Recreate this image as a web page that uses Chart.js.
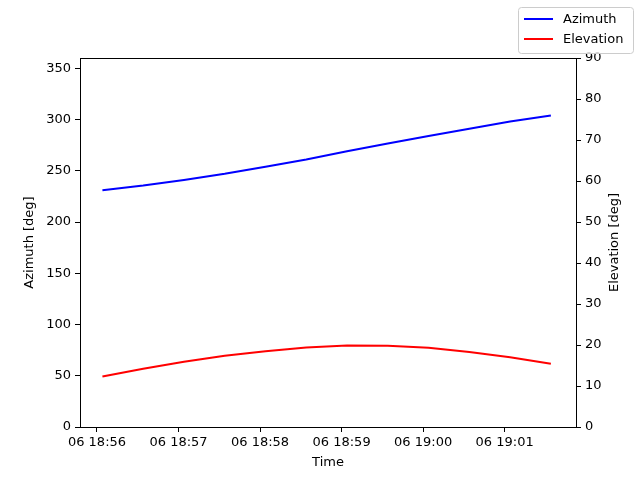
<!DOCTYPE html>
<html>
<head>
<meta charset="utf-8">
<script src="https://cdn.jsdelivr.net/npm/chart.js@4"></script>
<style>
  html, body { margin: 0; padding: 0; background: #fff; }
  #wrap { width: 640px; height: 480px; }
</style>
</head>
<body>
<div id="wrap"><canvas id="c" width="640" height="480"></canvas></div>
<script>
// --- Data (seconds after 18:56:00, 30 s steps) ---
const timeSec = [4, 34, 64, 94, 124, 154, 184, 214, 244, 274, 304, 334];
const azimuth = [231, 235.5, 241, 247, 254, 261, 269, 276.5, 284, 291, 298, 304];
const elevation = [12.3, 14.2, 15.9, 17.4, 18.5, 19.4, 19.9, 19.8, 19.3, 18.3, 17.0, 15.4];
const xTickLabels = ['06 18:56', '06 18:57', '06 18:58', '06 18:59', '06 19:00', '06 19:01'];
const azTicks = [0, 50, 100, 150, 200, 250, 300, 350];
const elTicks = [0, 10, 20, 30, 40, 50, 60, 70, 80, 90];
const seriesNames = ['Azimuth', 'Elevation'];
const axisTitles = ['Azimuth [deg]', 'Elevation [deg]', 'Time'];

const FONT = 'DejaVu Sans, sans-serif';
const toPts = (ys) => ys.map((y, i) => ({x: timeSec[i], y}));

// frame, y titles (both read bottom-up) and boxed legend, drawn like matplotlib
const frameLegend = {
  id: 'frameLegend',
  afterDraw(chart) {
    const {ctx, chartArea: a} = chart;
    ctx.save();
    ctx.strokeStyle = '#000';
    ctx.lineWidth = 1;
    ctx.strokeRect(Math.round(a.left) + 0.5, Math.round(a.top) + 0.5,
      Math.round(a.right - a.left), Math.round(a.bottom - a.top));

    ctx.fillStyle = '#000';
    ctx.font = `13px ${FONT}`;
    ctx.textAlign = 'center';
    ctx.textBaseline = 'middle';
    const midY = (a.top + a.bottom) / 2;
    [[30, axisTitles[0]], [615, axisTitles[1]]].forEach(([x, t]) => {
      ctx.save();
      ctx.translate(x, midY);
      ctx.rotate(-Math.PI / 2);
      ctx.fillText(t, 0, 0);
      ctx.restore();
    });

    // legend box
    const bx = 518.5, by = 7.5, bw = 115, bh = 46;
    ctx.fillStyle = 'rgba(255,255,255,0.8)';
    ctx.strokeStyle = '#cccccc';
    ctx.beginPath();
    ctx.roundRect(bx, by, bw, bh, 3);
    ctx.fill();
    ctx.stroke();
    ctx.textAlign = 'left';
    chart.data.datasets.forEach((ds, i) => {
      const y = 19 + i * 20;
      ctx.strokeStyle = ds.borderColor;
      ctx.lineWidth = 2;
      ctx.beginPath();
      ctx.moveTo(524, y);
      ctx.lineTo(553, y);
      ctx.stroke();
      ctx.fillStyle = '#000';
      ctx.fillText(ds.label, 563, y + 1);
    });
    ctx.restore();
  }
};

const tickStyle = {color: '#000', font: {family: FONT, size: 13}};
const gridStyle = {display: true, drawOnChartArea: false, drawTicks: true, tickLength: 5, color: '#000', tickColor: '#000'};

new Chart(document.getElementById('c'), {
  type: 'line',
  data: {
    datasets: [
      {label: seriesNames[0], data: toPts(azimuth), yAxisID: 'yAz', borderColor: '#0000ff',
       borderWidth: 2, pointRadius: 0, tension: 0, fill: false},
      {label: seriesNames[1], data: toPts(elevation), yAxisID: 'yEl', borderColor: '#ff0000',
       borderWidth: 2, pointRadius: 0, tension: 0, fill: false}
    ]
  },
  options: {
    responsive: false,
    animation: false,
    layout: {padding: {top: 58, left: 0, right: 0, bottom: 0}},
    plugins: {legend: {display: false}, tooltip: {enabled: false}},
    scales: {
      x: {
        type: 'linear',
        min: -12.5, max: 352.5,
        afterBuildTicks: (s) => { s.ticks = xTickLabels.map((_, i) => ({value: i * 60})); },
        ticks: {...tickStyle, maxRotation: 0, padding: 3,
          callback: (v) => xTickLabels[Math.round(v / 60)] ?? ''},
        grid: gridStyle,
        border: {display: true, color: '#000'},
        title: {display: true, text: axisTitles[2], color: '#000', font: {family: FONT, size: 13}, padding: {top: 0, bottom: 10}},
        afterFit: (s) => { s.height = 53; }
      },
      yAz: {
        type: 'linear', position: 'left',
        min: 0, max: 360,
        afterBuildTicks: (s) => { s.ticks = azTicks.map((v) => ({value: v})); },
        ticks: {...tickStyle, padding: 4},
        grid: gridStyle,
        border: {display: true, color: '#000'},
        afterFit: (s) => { s.width = 80; }
      },
      yEl: {
        type: 'linear', position: 'right',
        min: 0, max: 90,
        afterBuildTicks: (s) => { s.ticks = elTicks.map((v) => ({value: v})); },
        ticks: {...tickStyle, padding: 4},
        grid: gridStyle,
        border: {display: true, color: '#000'},
        afterFit: (s) => { s.width = 64; }
      }
    }
  },
  plugins: [frameLegend]
});
</script>
</body>
</html>
